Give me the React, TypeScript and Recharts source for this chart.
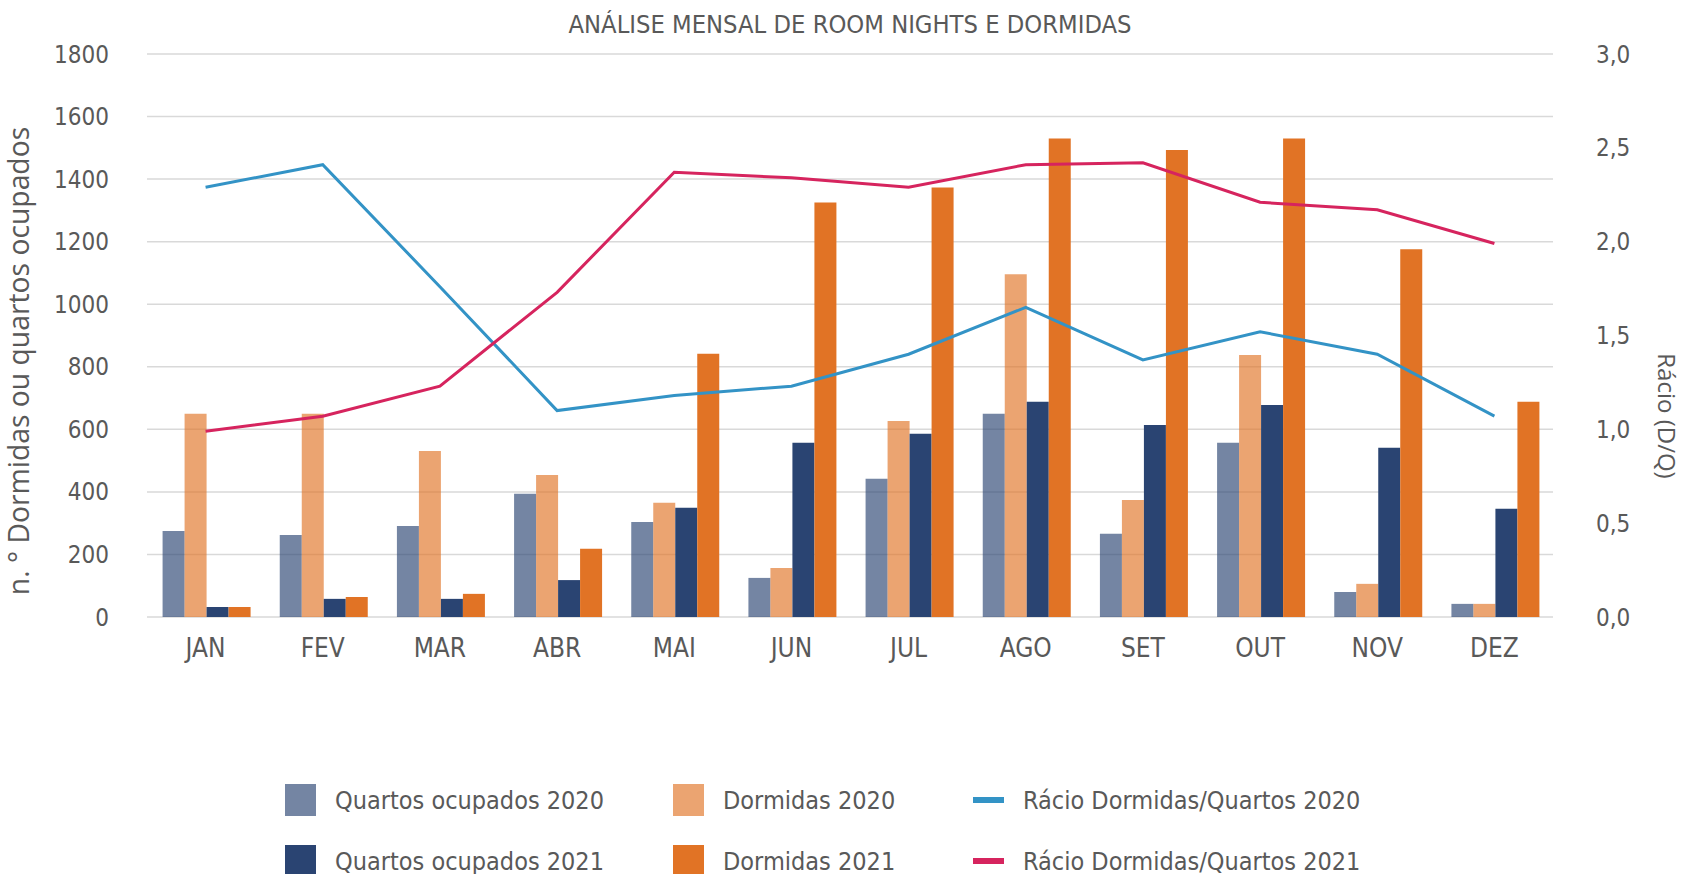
import {
  ComposedChart,
  Bar,
  Line,
  XAxis,
  YAxis,
  CartesianGrid,
  Legend,
  Label,
} from "recharts";

const months = ["JAN", "FEV", "MAR", "ABR", "MAI", "JUN", "JUL", "AGO", "SET", "OUT", "NOV", "DEZ"];
const quartos2020 = [275, 262, 291, 394, 304, 125, 442, 650, 266, 557, 80, 42];
const dormidas2020 = [650, 650, 531, 454, 365, 157, 627, 1096, 374, 838, 106, 42];
const quartos2021 = [32, 58, 58, 118, 349, 557, 586, 688, 614, 678, 541, 346];
const dormidas2021 = [32, 64, 74, 218, 842, 1325, 1373, 1530, 1493, 1530, 1176, 688];
const racio2020 = [2.29, 2.41, 1.76, 1.1, 1.18, 1.23, 1.4, 1.65, 1.37, 1.52, 1.4, 1.07];
const racio2021 = [0.99, 1.07, 1.23, 1.73, 2.37, 2.34, 2.29, 2.41, 2.42, 2.21, 2.17, 1.99];
const leftTicks = [0, 200, 400, 600, 800, 1000, 1200, 1400, 1600, 1800];
const rightTicks = [0, 0.5, 1, 1.5, 2, 2.5, 3];

const data = months.map((m, i) => ({
  month: m,
  q2020: quartos2020[i],
  d2020: dormidas2020[i],
  q2021: quartos2021[i],
  d2021: dormidas2021[i],
  r2020: racio2020[i],
  r2021: racio2021[i],
}));

const GREY = "#595959";
const NARROW = "'Liberation Sans Narrow', 'DejaVu Sans Condensed', Roboto, sans-serif";
const WIDE = "'Open Sans', sans-serif";

const legendItems = [
  { label: "Quartos ocupados 2020", color: "#2a4472", opacity: 0.65, type: "bar" },
  { label: "Dormidas 2020", color: "#e17325", opacity: 0.65, type: "bar" },
  { label: "Rácio Dormidas/Quartos 2020", color: "#3393c6", opacity: 1, type: "line" },
  { label: "Quartos ocupados 2021", color: "#2a4472", opacity: 1, type: "bar" },
  { label: "Dormidas 2021", color: "#e17325", opacity: 1, type: "bar" },
  { label: "Rácio Dormidas/Quartos 2021", color: "#d6245e", opacity: 1, type: "line" },
];

const colX = [285, 673, 973];
const rowY = [800, 861];

function renderLegend() {
  return (
    <div style={{ position: "relative", width: 1685, height: 120 }}>
      {legendItems.map((it, i) => {
        const col = i % 3;
        const row = Math.floor(i / 3);
        return (
          <div
            key={it.label}
            style={{
              position: "absolute",
              left: colX[col],
              top: rowY[row] - 770 - 16,
              height: 32,
              display: "flex",
              alignItems: "center",
              whiteSpace: "nowrap",
            }}
          >
            <span
              style={{
                display: "inline-block",
                width: 31,
                height: it.type === "bar" ? 32 : 6,
                background: it.color,
                opacity: it.opacity,
                marginRight: 19,
              }}
            />
            <span style={{ fontFamily: NARROW, fontSize: 25, color: GREY }}>{it.label}</span>
          </div>
        );
      })}
    </div>
  );
}

export default function App() {
  return (
    <div style={{ position: "absolute", left: 0, top: 0, width: 1685, height: 874, background: "#fff" }}>
      <div
        style={{
          position: "absolute",
          left: 147,
          top: 10,
          width: 1406,
          textAlign: "center",
          fontFamily: NARROW,
          fontSize: 25.3,
          color: GREY,
        }}
      >
        ANÁLISE MENSAL DE ROOM NIGHTS E DORMIDAS
      </div>
      <ComposedChart
        width={1685}
        height={874}
        data={data}
        margin={{ top: 54, right: 0, left: 0, bottom: 197 }}
        barCategoryGap="13.3%"
        barGap={0}
      >
        <CartesianGrid yAxisId="left" vertical={false} stroke="#d9d9d9" strokeWidth={1.5} />
        <XAxis
          dataKey="month"
          height={60}
          axisLine={false}
          tickLine={false}
          tickSize={0}
          tickMargin={22}
          tick={{ fill: GREY, fontSize: 26, fontFamily: NARROW }}
        />
        <YAxis
          yAxisId="left"
          width={147}
          domain={[0, 1800]}
          ticks={leftTicks}
          axisLine={false}
          tickLine={false}
          tickSize={0}
          tickMargin={38}
          tick={{ fill: GREY, fontSize: 24, fontFamily: NARROW }}
        >
          <Label
            content={() => (
              <text
                x={18}
                y={361}
                transform="rotate(-90 18 361)"
                textAnchor="middle"
                dominantBaseline="central"
                fill={GREY}
                fontSize={28.3}
                fontFamily={WIDE}
              >
                n. ° Dormidas ou quartos ocupados
              </text>
            )}
          />
        </YAxis>
        <YAxis
          yAxisId="right"
          orientation="right"
          width={132}
          domain={[0, 3]}
          ticks={rightTicks}
          tickFormatter={(v: number) => v.toFixed(1).replace(".", ",")}
          axisLine={false}
          tickLine={false}
          tickSize={0}
          tickMargin={43}
          tick={{ fill: GREY, fontSize: 24, fontFamily: NARROW }}
        >
          <Label
            content={() => (
              <text
                x={1667}
                y={416}
                transform="rotate(90 1667 416)"
                textAnchor="middle"
                dominantBaseline="central"
                fill={GREY}
                fontSize={24}
                fontFamily={WIDE}
              >
                Rácio (D/Q)
              </text>
            )}
          />
        </YAxis>
        <Bar yAxisId="left" dataKey="q2020" name="Quartos ocupados 2020" fill="#2a4472" fillOpacity={0.65} isAnimationActive={false} />
        <Bar yAxisId="left" dataKey="d2020" name="Dormidas 2020" fill="#e17325" fillOpacity={0.65} isAnimationActive={false} />
        <Bar yAxisId="left" dataKey="q2021" name="Quartos ocupados 2021" fill="#2a4472" isAnimationActive={false} />
        <Bar yAxisId="left" dataKey="d2021" name="Dormidas 2021" fill="#e17325" isAnimationActive={false} />
        <Line yAxisId="right" dataKey="r2020" name="Rácio Dormidas/Quartos 2020" stroke="#3393c6" strokeWidth={3} dot={false} isAnimationActive={false} />
        <Line yAxisId="right" dataKey="r2021" name="Rácio Dormidas/Quartos 2021" stroke="#d6245e" strokeWidth={3} dot={false} isAnimationActive={false} />
        <Legend
          layout="horizontal"
          verticalAlign="middle"
          align="center"
          content={renderLegend}
          wrapperStyle={{ position: "absolute", left: 0, top: 770, width: 1685 }}
        />
      </ComposedChart>
    </div>
  );
}
